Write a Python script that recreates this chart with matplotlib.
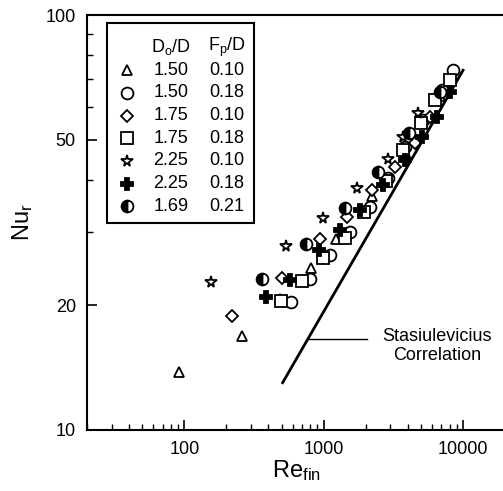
import numpy as np
import matplotlib.pyplot as plt
from matplotlib.ticker import FixedLocator, FuncFormatter, LogLocator, NullFormatter
from matplotlib.patches import Rectangle

plt.rcParams["font.family"] = ["Liberation Sans", "DejaVu Sans"]
plt.rcParams["mathtext.fontset"] = "custom"
plt.rcParams["mathtext.rm"] = "Liberation Sans"
plt.rcParams["mathtext.it"] = "Liberation Sans"

# data (Re_fin, Nu_r)
tri_re = [92, 261, 482, 806, 1220, 2215, 3826, 6835]
tri_nu = [13.8, 16.8, 20.7, 24.6, 28.9, 36.6, 46.8, 63.8]

circ_re = [579, 793, 1104, 1538, 2142, 2886, 3826, 5156, 7063, 8474]
circ_nu = [20.3, 23.1, 26.4, 30.0, 34.5, 40.5, 48.1, 55.8, 65.9, 73.7]

dia_re = [218, 499, 936, 1464, 2215, 3241, 4514, 5790]
dia_nu = [18.8, 23.2, 28.9, 32.6, 37.9, 43.0, 49.1, 56.8]

sq_re = [491, 695, 983, 1416, 1940, 2793, 3701, 4988, 6291, 8060]
sq_nu = [20.5, 22.9, 26.0, 29.0, 33.5, 39.8, 47.3, 55.0, 62.4, 69.7]

star_re = [156, 533, 983, 1728, 2886, 3701, 4749]
star_nu = [22.7, 27.8, 32.4, 38.3, 45.0, 50.8, 58.0]

plus_re = [383, 569, 920, 1304, 1815, 2657, 3826, 5070, 6500, 8060]
plus_nu = [20.9, 23.0, 27.2, 30.3, 33.9, 38.9, 44.7, 50.8, 56.8, 65.2]

half_re = [358, 742, 1416, 2446, 4089, 6835]
half_nu = [23.1, 28.1, 34.3, 41.8, 52.0, 65.2]

# Stasiulevicius correlation end points
corr_re = [507, 10000]
corr_nu = [13.0, 73.6]

do_d = ["1.50", "1.50", "1.75", "1.75", "2.25", "2.25", "1.69"]
fp_d = ["0.10", "0.18", "0.10", "0.18", "0.10", "0.18", "0.21"]


def main():
    fig = plt.figure(figsize=(5.03, 4.91), dpi=100)
    ax = fig.add_axes([87 / 503, 61 / 491, 418 / 503, 415 / 491])
    ax.set_xscale("log")
    ax.set_yscale("log")
    ax.set_xlim(20, 20000)
    ax.set_ylim(10, 100)

    ax.plot(corr_re, corr_nu, "k-", linewidth=2.0, zorder=2)

    styles = [
        (tri_re, tri_nu, dict(marker="^", ms=7.5, mfc="white")),
        (circ_re, circ_nu, dict(marker="o", ms=8.5, mfc="white")),
        (dia_re, dia_nu, dict(marker="D", ms=6.5, mfc="white")),
        (sq_re, sq_nu, dict(marker="s", ms=8, mfc="white")),
        (star_re, star_nu, dict(marker="*", ms=8.5, mfc="white")),
        (plus_re, plus_nu, dict(marker="P", ms=9, mfc="black")),
        (half_re, half_nu, dict(marker="o", ms=8.5, mfc="black",
                                fillstyle="left", markerfacecoloralt="white")),
    ]
    for xs, ys, st in styles:
        ax.plot(xs, ys, linestyle="none", mec="black", mew=1.3, zorder=3, **st)

    # correlation label with leader line
    ax.plot([767, 2037], [16.6, 16.6], "k-", linewidth=1.0)
    ax.text(6500, 15.9, "Stasiulevicius\nCorrelation", ha="center", va="center",
            fontsize=13, linespacing=1.15)

    # legend as a small table
    ax.add_patch(Rectangle((0.048, 0.499), 0.352, 0.482, transform=ax.transAxes,
                           fill=False, edgecolor="black", linewidth=1.5, zorder=4))
    ax.text(0.201, 0.923, r"D$_\mathrm{o}$/D", transform=ax.transAxes,
            ha="center", va="center", fontsize=13)
    ax.text(0.335, 0.923, r"F$_\mathrm{p}$/D", transform=ax.transAxes,
            ha="center", va="center", fontsize=13)
    for i, (xs, ys, st) in enumerate(styles):
        yy = 0.867 - i * 0.0547
        ax.plot([0.096], [yy], transform=ax.transAxes, linestyle="none",
                mec="black", mew=1.3, clip_on=False, **st)
        ax.text(0.201, yy, do_d[i], transform=ax.transAxes, ha="center",
                va="center", fontsize=13)
        ax.text(0.335, yy, fp_d[i], transform=ax.transAxes, ha="center",
                va="center", fontsize=13)

    ax.xaxis.set_major_locator(LogLocator(base=10))
    ax.xaxis.set_major_formatter(FuncFormatter(lambda v, p: f"{int(round(v))}"))
    ax.xaxis.set_minor_locator(LogLocator(base=10, subs=np.arange(2, 10)))
    ax.xaxis.set_minor_formatter(NullFormatter())
    ax.yaxis.set_major_locator(FixedLocator([10, 20, 50, 100]))
    ax.yaxis.set_major_formatter(FuncFormatter(lambda v, p: f"{int(round(v))}"))
    ax.yaxis.set_minor_locator(FixedLocator([30, 40, 60, 70, 80, 90]))
    ax.yaxis.set_minor_formatter(NullFormatter())

    ax.tick_params(which="major", direction="in", length=7, width=1.2,
                   labelsize=13, pad=8)
    ax.tick_params(which="minor", direction="in", length=4, width=1.0)
    for sp in ax.spines.values():
        sp.set_linewidth(1.5)

    ax.set_xlabel(r"Re$_\mathrm{fin}$", fontsize=17, labelpad=0)
    ax.set_ylabel(r"Nu$_\mathrm{r}$", fontsize=17, labelpad=8)

    fig.savefig("out.png", dpi=100)


if __name__ == "__main__":
    main()
